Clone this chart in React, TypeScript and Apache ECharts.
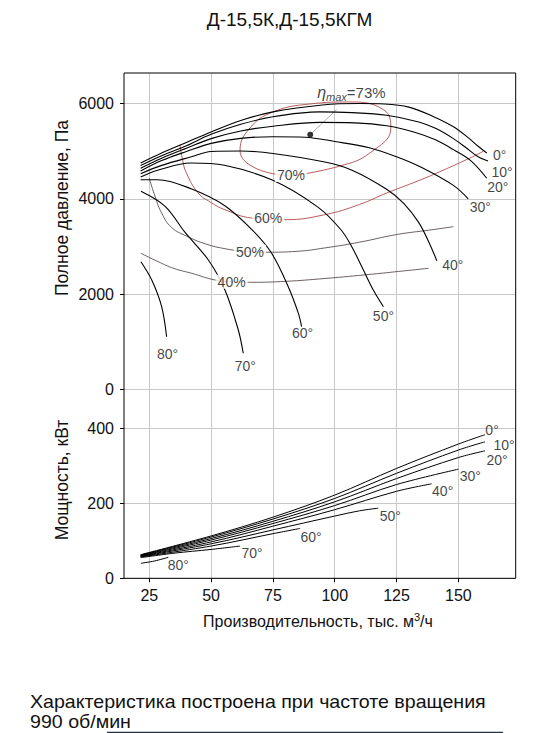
import React, { useEffect, useRef } from 'react';
import * as echarts from 'echarts';

const FONT = '"Liberation Sans", Arial, Helvetica, sans-serif';

// Axis ticks
const xTicks = [25, 50, 75, 100, 125, 150];
const pressureTicks = [0, 2000, 4000, 6000];
const powerTicks = [0, 200, 400];

// Pressure curves, Q (thous. m3/h) vs P (Pa), per blade angle
const pressure0 = [[21.5, 4750], [30, 4960], [40, 5180], [50, 5400], [62, 5640], [75, 5820], [95, 5965], [110, 5995], [120, 5985], [130, 5920], [140, 5720], [148, 5510], [154, 5280], [158, 5100], [161.5, 4960]];
const pressure10 = [[21.5, 4695], [30, 4900], [40, 5110], [50, 5350], [62, 5560], [75, 5720], [94, 5820], [107, 5805], [121, 5750], [134, 5610], [141, 5470], [148, 5260], [153, 5075], [158, 4880], [162, 4790]];
const pressure20 = [[21.5, 4640], [30, 4850], [40, 5060], [50, 5260], [62, 5420], [75, 5520], [94, 5600], [108, 5590], [121, 5530], [132, 5400], [141, 5230], [148, 5030], [155, 4800], [161.5, 4430]];
const pressure30 = [[21.5, 4582], [30, 4800], [40, 4990], [50, 5160], [62, 5265], [75, 5300], [88, 5290], [100, 5200], [114, 5070], [125, 4880], [135, 4660], [148, 4280], [154, 4000]];
const pressure40 = [[21.5, 4526], [30, 4700], [42, 4880], [50, 4990], [62, 5000], [75, 4950], [96, 4770], [107, 4600], [121, 4200], [128, 3900], [134, 3500], [138, 3100], [141.3, 2700]];
const pressure50 = [[21.5, 4456], [28.4, 4596], [41.9, 4751], [55.4, 4702], [75, 4386], [93.2, 3824], [102.6, 3346], [106.9, 2996], [111.6, 2508], [115.6, 2089], [119.7, 1739]];
const pressure60 = [[21.5, 4400], [28.4, 4400], [41.9, 4210], [55.4, 3860], [66.9, 3333], [74.5, 2857], [81.2, 2158], [85.3, 1600], [86.6, 1320]];
const pressure70 = [[21.6, 4157], [31.4, 3842], [39.4, 3300], [48.9, 2717], [55.6, 2089], [61, 1251], [63, 763]];
const pressure80 = [[21.6, 2682], [26, 2298], [30, 1739], [32, 1110]];

// Power curves, Q vs N (kW)
const power0 = [[21.5, 63], [50, 113], [75, 163], [100, 222], [125, 293], [150, 358], [160.8, 383]];
const power10 = [[21.5, 62], [50, 110], [75, 158], [100, 213], [125, 280], [150, 342], [160.8, 364]];
const power20 = [[21.5, 61], [50, 106], [75, 152], [100, 204], [125, 266], [150, 322], [160.8, 340]];
const power30 = [[21.5, 60], [50, 102], [75, 146], [100, 194], [125, 250], [150, 291]];
const power40 = [[21.5, 59], [50, 97], [75, 139], [100, 183], [125, 232], [139.2, 252]];
const power50 = [[21.5, 58], [50, 92], [75, 129], [100, 166], [110, 180], [117.6, 187]];
const power60 = [[21.5, 57], [50, 86], [75, 119], [86, 133]];
const power70 = [[21.5, 55], [35, 67], [50, 77], [61.7, 86]];
const power80 = [[21.6, 40], [27, 46], [32.7, 56]];

// Efficiency contours
const eff70 = [[82.3, 4477], [102.1, 4686], [114.2, 4959], [122.7, 5483], [119.9, 5860], [106.2, 6028], [90, 5986], [75, 5818], [65.7, 5483], [61.7, 5022], [67.8, 4645], [82.3, 4477]];
const eff60 = [[37.4, 5130], [38.5, 4800], [40, 4540], [44.8, 4121], [50, 3920], [55.6, 3771], [66.4, 3597], [79.9, 3562], [96, 3667], [110, 3880], [121, 4121], [132, 4340], [141.3, 4540], [154.7, 4854], [160.1, 4995]];
const eff50 = [[25, 4430], [27, 4100], [30, 3700], [34, 3400], [40, 3220], [48, 3050], [56, 2950], [62, 2910], [72, 2880], [85, 2900], [96, 2970], [110, 3090], [125, 3250], [138.6, 3346], [148, 3415]];
const eff40 = [[21.6, 2857], [28.6, 2682], [35, 2540], [42.2, 2438], [51.6, 2298], [58, 2260], [66.4, 2250], [80, 2270], [96, 2330], [115, 2420], [130, 2500], [138, 2543]];

const effNames = ['70%', '60%', '50%', '40%'];
const effLabelAt = [[82.3, 4496], [73.1, 3597], [65.7, 2891], [58.3, 2263]];

const maxEffPoint = [90.1, 5343];
const maxEffLeader = [[90.1, 5343], [100.8, 5870]];
const maxEffLabelAt = [92.7, 6227];

const angleNames = ['0°', '10°', '20°', '30°', '40°', '50°', '60°', '70°', '80°'];
const pressureCurves = [pressure0, pressure10, pressure20, pressure30, pressure40, pressure50, pressure60, pressure70, pressure80];
const powerCurves = [power0, power10, power20, power30, power40, power50, power60, power70, power80];

// label offsets (pixels) from the end of each curve
const pressureLabelOffsets = [[13, 2], [14, 11], [11, 9], [12, 8], [16, 4], [0, 9], [1, 6], [2, 13], [1, 17]];
const powerLabelOffsets = [[7, -5], [19, 3], [12, 9], [12, 7], [11, 7], [12, 8], [11, 9], [12, 7], [10, 8]];

const GRID_COLOR = '#c8c8c8';
const X_MIN = 14.77;
const X_MAX = 173.2;

function buildOption(): any {
  const series: any[] = [];
  const curveLine = { color: '#000', width: 1.1 };

  pressureCurves.forEach((d, i) => {
    series.push({
      type: 'line', name: 'P ' + angleNames[i], xAxisIndex: 0, yAxisIndex: 0,
      data: d, smooth: 0.35, showSymbol: false, symbol: 'none', silent: true,
      lineStyle: curveLine, z: 3,
    });
  });
  powerCurves.forEach((d, i) => {
    series.push({
      type: 'line', name: 'N ' + angleNames[i], xAxisIndex: 1, yAxisIndex: 1,
      data: d, smooth: 0.35, showSymbol: false, symbol: 'none', silent: true,
      lineStyle: { color: '#000', width: 1 }, z: 3,
    });
  });
  const effData = [eff70, eff60, eff50, eff40];
  const effColors = ['#b04a4a', '#b04a4a', '#4a3838', '#4a3838'];
  effData.forEach((d, i) => {
    series.push({
      type: 'line', name: 'η ' + effNames[i], xAxisIndex: 0, yAxisIndex: 0,
      data: d, smooth: 0.45, showSymbol: false, symbol: 'none', silent: true,
      lineStyle: { color: effColors[i], width: i < 2 ? 0.9 : 0.8 }, z: 2,
    });
  });
  series.push({
    type: 'line', xAxisIndex: 0, yAxisIndex: 0, data: maxEffLeader, showSymbol: false,
    symbol: 'none', silent: true, lineStyle: { color: '#777', width: 0.6 }, z: 2,
  });
  series.push({
    type: 'scatter', xAxisIndex: 0, yAxisIndex: 0, data: [maxEffPoint], symbolSize: 6,
    itemStyle: { color: '#000' }, silent: true, z: 5,
  });
  series.push({
    type: 'scatter', xAxisIndex: 0, yAxisIndex: 0, data: [maxEffLabelAt], symbolSize: 1,
    itemStyle: { color: 'rgba(0,0,0,0)' }, silent: true, z: 6,
    label: {
      show: true, position: 'right', distance: 0,
      formatter: '{eta|η}{sub|max}{n|=73%}',
      rich: {
        eta: { fontFamily: FONT, fontStyle: 'italic', fontSize: 16, color: '#111' },
        sub: { fontFamily: FONT, fontStyle: 'italic', fontSize: 11, color: '#111', padding: [9, 0, 0, 0] },
        n: { fontFamily: FONT, fontSize: 15, color: '#111' },
      },
    },
  });
  series.push({
    type: 'scatter', xAxisIndex: 0, yAxisIndex: 0, symbolSize: 1,
    itemStyle: { color: 'rgba(0,0,0,0)' }, silent: true, z: 6,
    data: effLabelAt.map((p, i) => ({
      value: p,
      label: { show: true, formatter: effNames[i] },
    })),
    label: {
      show: true, position: 'inside', color: '#111', fontSize: 14, fontFamily: FONT,
      backgroundColor: '#fff', padding: [0, 2],
    },
  });
  series.push({
    type: 'scatter', xAxisIndex: 0, yAxisIndex: 0, symbolSize: 1,
    itemStyle: { color: 'rgba(0,0,0,0)' }, silent: true, z: 6,
    data: pressureCurves.map((d, i) => ({
      value: d[d.length - 1],
      label: { show: true, formatter: angleNames[i], offset: pressureLabelOffsets[i] },
    })),
    label: { show: true, position: 'inside', color: '#111', fontSize: 14, fontFamily: FONT, lineHeight: 14 },
  });
  series.push({
    type: 'scatter', xAxisIndex: 1, yAxisIndex: 1, symbolSize: 1,
    itemStyle: { color: 'rgba(0,0,0,0)' }, silent: true, z: 6,
    data: powerCurves.map((d, i) => ({
      value: d[d.length - 1],
      label: { show: true, formatter: angleNames[i], offset: powerLabelOffsets[i] },
    })),
    label: { show: true, position: 'inside', color: '#111', fontSize: 14, fontFamily: FONT, lineHeight: 14 },
  });

  const splitLine = { show: true, lineStyle: { color: GRID_COLOR, width: 1 } };
  const tickLabel = { color: '#111', fontSize: 16, fontFamily: FONT, formatter: (v: number) => String(v) };

  return {
    animation: false,
    backgroundColor: '#fff',
    textStyle: { fontFamily: FONT },
    grid: [
      { left: 124, top: 73, width: 391.7, height: 316.7, outerBoundsMode: 'none', containLabel: false },
      { left: 124, top: 389.7, width: 391.7, height: 188.6, outerBoundsMode: 'none', containLabel: false },
    ],
    xAxis: [
      {
        gridIndex: 0, type: 'value', min: X_MIN, max: X_MAX,
        axisLine: { show: false },
        axisTick: { show: false, customValues: xTicks },
        axisLabel: { show: false, customValues: xTicks },
        splitLine,
      },
      {
        gridIndex: 1, type: 'value', min: X_MIN, max: X_MAX,
        axisLine: { show: false },
        axisTick: { show: true, length: 4, customValues: xTicks, lineStyle: { color: '#000' } },
        axisLabel: { ...tickLabel, margin: 9, customValues: xTicks },
        splitLine,
      },
    ],
    yAxis: [
      {
        gridIndex: 0, type: 'value', min: 0, max: 6635,
        axisLine: { show: false },
        axisTick: { show: true, length: 4, customValues: pressureTicks, lineStyle: { color: '#000' } },
        axisLabel: { ...tickLabel, margin: 10, customValues: pressureTicks },
        splitLine,
      },
      {
        gridIndex: 1, type: 'value', min: 0, max: 503,
        axisLine: { show: false },
        axisTick: { show: true, length: 4, customValues: powerTicks, lineStyle: { color: '#000' } },
        axisLabel: { ...tickLabel, margin: 10, customValues: powerTicks },
        splitLine,
      },
    ],
    graphic: [
      {
        type: 'rect', shape: { x: 124, y: 73, width: 391.7, height: 505.3 },
        style: { fill: 'none', stroke: '#000', lineWidth: 1 }, silent: true, z: 10,
      },
      {
        type: 'text', x: 289.5, y: 19,
        style: { text: 'Д-15,5К,Д-15,5КГМ', fontSize: 19, fontFamily: FONT, fill: '#111', align: 'center', verticalAlign: 'middle' },
      },
      {
        type: 'text', x: 62, y: 208, rotation: Math.PI / 2,
        style: { text: 'Полное давление, Па', fontSize: 17.5, fontFamily: FONT, fill: '#111', align: 'center', verticalAlign: 'middle' },
      },
      {
        type: 'text', x: 62, y: 480, rotation: Math.PI / 2,
        style: { text: 'Мощность, кВт', fontSize: 17.5, fontFamily: FONT, fill: '#111', align: 'center', verticalAlign: 'middle' },
      },
      {
        type: 'text', x: 318, y: 621,
        style: {
          text: '{t|Производительность, тыс. м}{sup|3}{t|/ч}',
          align: 'center', verticalAlign: 'middle',
          rich: {
            t: { fontSize: 16, fontFamily: FONT, fill: '#111' },
            sup: { fontSize: 11, fontFamily: FONT, fill: '#111', padding: [0, 0, 9, 0] },
          },
        },
      },
      {
        type: 'text', x: 30, y: 701.5, scaleX: 1.06,
        style: {
          text: 'Характеристика построена при частоте вращения',
          fontSize: 18.5, fontFamily: FONT, fill: '#111', align: 'left', verticalAlign: 'middle',
        },
      },
      {
        type: 'text', x: 30, y: 721.5, scaleX: 1.06,
        style: {
          text: '990 об/мин',
          fontSize: 18.5, fontFamily: FONT, fill: '#111', align: 'left', verticalAlign: 'middle',
        },
      },
      {
        type: 'line', shape: { x1: 107, y1: 732.5, x2: 503, y2: 732.5 },
        style: { stroke: '#24344a', lineWidth: 1.5 }, silent: true,
      },
    ],
    series,
  };
}

export default function App() {
  const ref = useRef<HTMLDivElement>(null);
  useEffect(() => {
    if (!ref.current) return;
    const chart = echarts.init(ref.current, null, { renderer: 'svg' });
    chart.setOption(buildOption());
    return () => chart.dispose();
  }, []);
  return <div ref={ref} style={{ position: 'absolute', left: 0, top: 0, width: 539, height: 733, background: '#fff' }} />;
}
